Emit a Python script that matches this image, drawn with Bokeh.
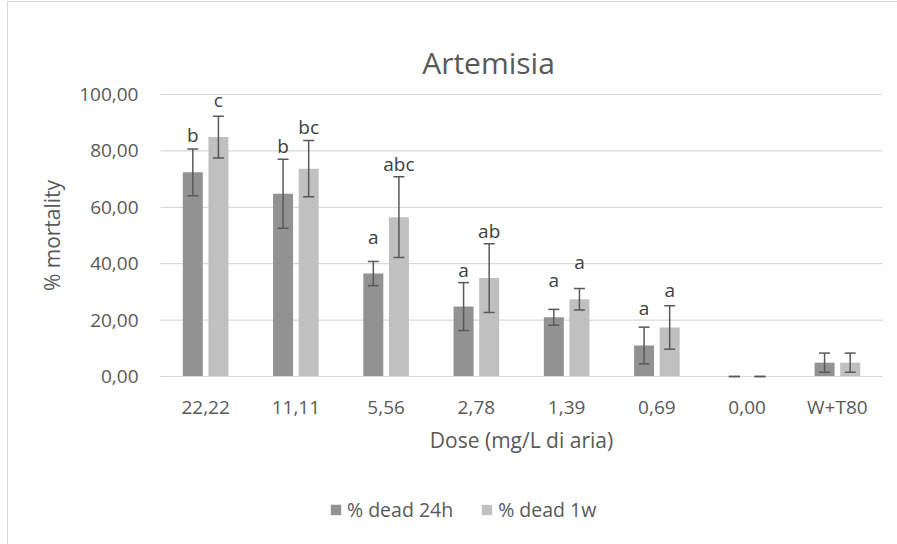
from bokeh.plotting import figure
from bokeh.models import (Range1d, FixedTicker, Whisker, ColumnDataSource, Label,
                          Legend, LegendItem, TeeHead, InlineStyleSheet, LinearAxis)
from bokeh.embed import file_html
from bokeh.resources import INLINE

# ---- data -------------------------------------------------------------
doses = ["22,22", "11,11", "5,56", "2,78", "1,39", "0,69", "0,00", "W+T80"]
dead_24h = [72.4, 64.8, 36.5, 24.8, 21.0, 11.0, 0.0, 4.9]
err_24h = [8.3, 12.2, 4.3, 8.5, 2.8, 6.5, 0.0, 3.4]
dead_1w = [84.9, 73.7, 56.5, 34.9, 27.4, 17.4, 0.0, 4.9]
err_1w = [7.4, 10.0, 14.3, 12.2, 3.8, 7.7, 0.0, 3.4]
letters_24h = ["b", "b", "a", "a", "a", "a", "", ""]
letters_1w = ["c", "bc", "abc", "ab", "a", "a", "", ""]
y_ticks = [0, 20, 40, 60, 80, 100]
y_tick_labels = ["0,00", "20,00", "40,00", "60,00", "80,00", "100,00"]

FONT = "Open Sans"
DARK = "#929292"
LIGHT = "#c0c0c0"
TEXT = "#595959"
GRID = "#d9d9d9"

W, H = 897, 544
LEFT, RIGHT, TOP, BOTTOM = 160, 882, 94, 376   # plot area in pixels
Y_MAX = 100
N = len(doses)
px_x = (RIGHT - LEFT) / N          # pixels per category
px_y = (BOTTOM - TOP) / Y_MAX      # pixels per y unit


def sx(px):
    """canvas x pixel -> data x"""
    return (px - LEFT) / px_x


def sy(py):
    """canvas y pixel -> data y"""
    return (BOTTOM - py) / px_y


# the frame covers the whole canvas; axes are pinned to the plot area's edges
p = figure(width=W, height=H, output_backend="svg", toolbar_location=None,
           x_range=Range1d(sx(0), sx(W)), y_range=Range1d(sy(H), sy(0)),
           x_axis_location=None, y_axis_location=None, min_border=0)
p.outline_line_color = None
p.background_fill_color = "white"
p.border_fill_color = "white"
p.xgrid.visible = False
p.ygrid.visible = False

# thin chart-area border along the top and left edges
p.stylesheets = [InlineStyleSheet(css="""
:host::after {
  content: ""; position: absolute; left: 7px; top: 1px; right: 0; bottom: 0;
  border-left: 1.5px solid #d9d9d9; border-top: 1.5px solid #d9d9d9;
  pointer-events: none; z-index: 10;
}
""")]

centers = [i + 0.5 for i in range(N)]
off = 12.8 / px_x
bar_w = 20 / px_x
x24 = [c - off for c in centers]
x1w = [c + off for c in centers]

# horizontal gridlines across the plot area only
p.segment(x0=[0] * len(y_ticks), x1=[N] * len(y_ticks), y0=y_ticks, y1=y_ticks,
          line_color=GRID, line_width=1.2)

src24 = ColumnDataSource(dict(x=x24, top=dead_24h,
                              upper=[v + e for v, e in zip(dead_24h, err_24h)],
                              lower=[v - e for v, e in zip(dead_24h, err_24h)]))
src1w = ColumnDataSource(dict(x=x1w, top=dead_1w,
                              upper=[v + e for v, e in zip(dead_1w, err_1w)],
                              lower=[v - e for v, e in zip(dead_1w, err_1w)]))

r24 = p.vbar(x="x", top="top", width=bar_w, source=src24, fill_color=DARK, line_color=None)
r1w = p.vbar(x="x", top="top", width=bar_w, source=src1w, fill_color=LIGHT, line_color=None)

for src in (src24, src1w):
    p.add_layout(Whisker(base="x", upper="upper", lower="lower", source=src,
                         level="annotation", line_color="#595959", line_width=1.5,
                         upper_head=TeeHead(size=11, line_color="#595959", line_width=1.5),
                         lower_head=TeeHead(size=11, line_color="#595959", line_width=1.5)))

# significance letters: above the error bar, but never closer than ~30 px to the bar
for xs, vals, errs, lets in ((x24, dead_24h, err_24h, letters_24h),
                             (x1w, dead_1w, err_1w, letters_1w)):
    for x, v, e, t in zip(xs, vals, errs, lets):
        if not t:
            continue
        y = max(v + 37 / px_y, v + e + 13 / px_y)
        p.add_layout(Label(x=x, y=y, text=t, text_align="center",
                           text_baseline="alphabetic", text_font=FONT,
                           text_font_size="19px", text_color="#404040"))

# title
p.add_layout(Label(x=sx(488), y=sy(62), text="Artemisia", text_align="center",
                   text_baseline="middle", text_font=FONT,
                   text_font_size="30px", text_color=TEXT))

# x axis pinned at y = 0
xaxis = LinearAxis(fixed_location=0, bounds=(0, N), ticker=FixedTicker(ticks=centers),
                   major_label_overrides={c: d for c, d in zip(centers, doses)})
xaxis.axis_line_color = GRID
xaxis.axis_line_width = 1.2
xaxis.major_tick_line_color = None
xaxis.minor_tick_line_color = None
xaxis.major_tick_out = 0
xaxis.major_label_standoff = 17
xaxis.major_label_text_font = FONT
xaxis.major_label_text_font_size = "19px"
xaxis.major_label_text_color = TEXT
xaxis.axis_label = "Dose (mg/L di aria)"
xaxis.axis_label_text_font = FONT
xaxis.axis_label_text_font_size = "21px"
xaxis.axis_label_text_font_style = "normal"
xaxis.axis_label_text_color = TEXT
xaxis.axis_label_standoff = 3
p.add_layout(xaxis, "below")

# y axis pinned at x = 0
yaxis = LinearAxis(fixed_location=0, bounds=(0, Y_MAX), ticker=FixedTicker(ticks=y_ticks),
                   major_label_overrides={t: l for t, l in zip(y_ticks, y_tick_labels)})
yaxis.axis_line_color = None
yaxis.major_tick_line_color = None
yaxis.minor_tick_line_color = None
yaxis.major_tick_out = 0
yaxis.major_label_standoff = 22
yaxis.major_label_text_font = FONT
yaxis.major_label_text_font_size = "19px"
yaxis.major_label_text_color = TEXT
yaxis.axis_label = "% mortality"
yaxis.axis_label_text_font = FONT
yaxis.axis_label_text_font_size = "21px"
yaxis.axis_label_text_font_style = "normal"
yaxis.axis_label_text_color = TEXT
yaxis.axis_label_standoff = 10
p.add_layout(yaxis, "left")

# legend under the axis title
legend = Legend(items=[LegendItem(label="% dead 24h", renderers=[r24]),
                       LegendItem(label="% dead 1w", renderers=[r1w])],
                orientation="horizontal", location=(329, 21),
                padding=0, margin=0, spacing=27, label_standoff=5,
                glyph_width=13, glyph_height=13, label_height=20,
                label_text_font=FONT, label_text_font_size="19.5px",
                label_text_color=TEXT, border_line_color=None,
                background_fill_alpha=0)
p.add_layout(legend, "center")

open("out.html", "w").write(file_html(p, INLINE))
